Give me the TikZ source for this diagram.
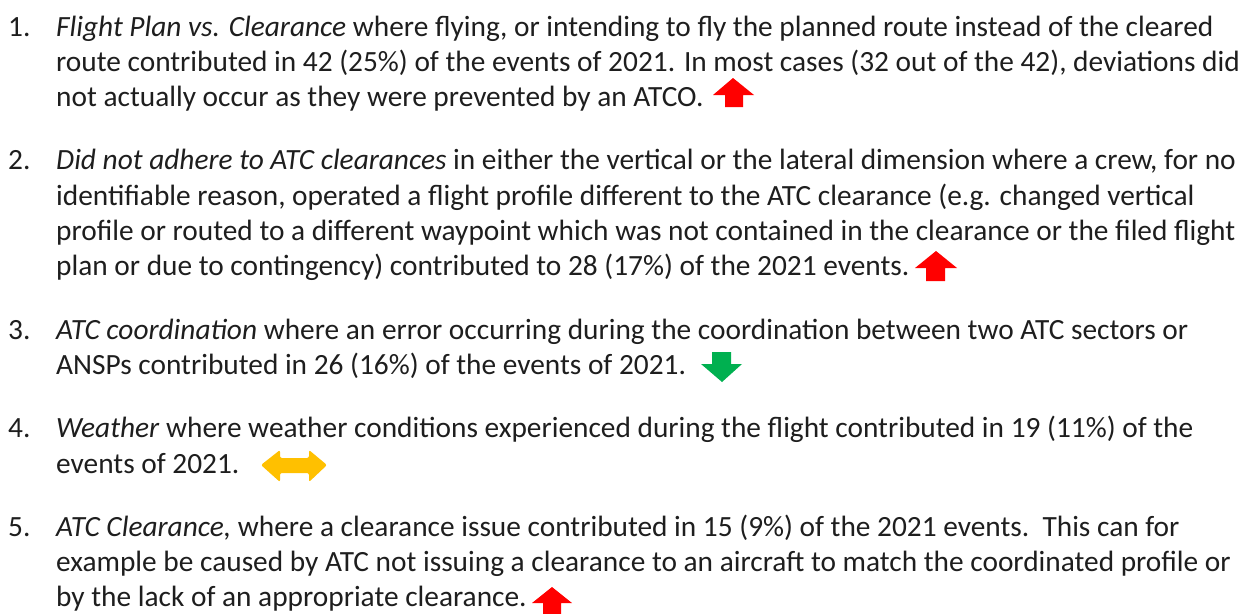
\documentclass[tikz,border=0pt]{standalone}
\usepackage{fontspec}
\setmainfont{Carlito}
\definecolor{txt}{HTML}{1E1E1E}
\definecolor{redA}{HTML}{FF0000}
\definecolor{greenA}{HTML}{00B050}
\definecolor{amberA}{HTML}{FFC000}
\tikzset{
  ln/.style={anchor=base west, inner sep=0pt, text=txt, font=\fontsize{29.35}{35}\selectfont},
  num/.style={anchor=base west, inner sep=0pt, text=txt, font=\fontsize{29.35}{35}\selectfont},
}
\begin{document}
\begin{tikzpicture}[x=1pt,y=1pt]
\useasboundingbox[fill=white] (0,0) rectangle (1258,-613);
% item 1
\node[num] (n1) at (8,-36) {1.};
\node[ln] (l11) at (56,-36) {\textit{Flight Plan vs. Clearance} where flying, or intending to fly the planned route instead of the cleared};
\node[ln] (l12) at (56,-71.3) {route contributed in 42 (25\%) of the events of 2021. In most cases (32 out of the 42), deviations did};
\node[ln] (l13) at (56,-106.6) {not actually occur as they were prevented by an ATCO.};
% item 2
\node[num] (n2) at (8,-169.9) {2.};
\node[ln] (l21) at (56,-169.9) {\textit{Did not adhere to ATC clearances} in either the vertical or the lateral dimension where a crew, for no};
\node[ln] (l22) at (56,-205.2) {identifiable reason, operated a flight profile different to the ATC clearance (e.g. changed vertical};
\node[ln] (l23) at (56,-240.5) {profile or routed to a different waypoint which was not contained in the clearance or the filed flight};
\node[ln] (l24) at (56,-275.8) {plan or due to contingency) contributed to 28 (17\%) of the 2021 events.};
% item 3
\node[num] (n3) at (8,-339.1) {3.};
\node[ln] (l31) at (56,-339.1) {\textit{ATC coordination} where an error occurring during the coordination between two ATC sectors or};
\node[ln] (l32) at (56,-374.4) {ANSPs contributed in 26 (16\%) of the events of 2021.};
% item 4
\node[num] (n4) at (8,-437.7) {4.};
\node[ln] (l41) at (56,-437.7) {\textit{Weather} where weather conditions experienced during the flight contributed in 19 (11\%) of the};
\node[ln] (l42) at (56,-473) {events of 2021.};
% item 5
\node[num] (n5) at (8,-536.3) {5.};
\node[ln] (l51) at (56,-536.3) {\textit{ATC Clearance,} where a clearance issue contributed in 15 (9\%) of the 2021 events.\ \ This can for};
\node[ln] (l52) at (56,-571.6) {example be caused by ATC not issuing a clearance to an aircraft to match the coordinated profile or};
\node[ln] (l53) at (56,-606.9) {by the lack of an appropriate clearance.};
% arrows
\fill[redA] (733,-78) -- (754,-95) -- (743,-95) -- (743,-107) -- (725,-107) -- (725,-95) -- (713,-95) -- cycle;
\fill[redA] (936,-251) -- (957,-268) -- (945,-268) -- (945,-281) -- (926,-281) -- (926,-268) -- (915,-268) -- cycle;
\fill[greenA] (722,-382) -- (742,-364) -- (731,-364) -- (731,-352) -- (712,-352) -- (712,-364) -- (701,-364) -- cycle;
\fill[amberA, rounded corners=2pt] (261,-465) -- (280,-450) -- (280,-458) -- (309,-458) -- (309,-450) -- (327,-465) -- (309,-482) -- (309,-473) -- (280,-473) -- (280,-482) -- cycle;
\begin{scope}
\clip (0,0) rectangle (1258,-613);
\fill[redA] (552,-587) -- (572,-603) -- (561,-603) -- (561,-618) -- (543,-618) -- (543,-603) -- (532,-603) -- cycle;
\end{scope}
\end{tikzpicture}
\end{document}
